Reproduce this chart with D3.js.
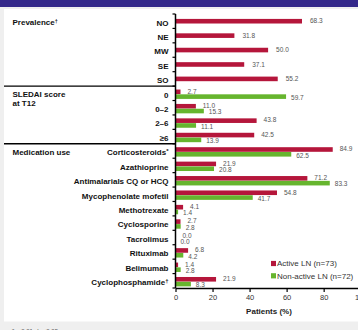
<!DOCTYPE html>
<html><head><meta charset="utf-8">
<script src="https://cdn.jsdelivr.net/npm/d3@7"></script>
<style>
body{margin:0;background:#efefef;}
svg{display:block;font-family:"Liberation Sans",Arial,sans-serif;}
</style></head>
<body><svg id="c" width="358" height="330"></svg>
<script>
const prevalenceCats = ["NO","NE","MW","SE","SO"];
const prevalenceActive = [68.3,31.8,50.0,37.1,55.2];
const sledaiCats = ["0","0\u20132","2\u20136","\u22656"];
const sledaiActive = [2.7,11.0,43.8,42.5];
const sledaiNonActive = [59.7,15.3,11.1,13.9];
const medCats = ["Corticosteroids*","Azathioprine","Antimalarials CQ or HCQ","Mycophenolate mofetil","Methotrexate","Cyclosporine","Tacrolimus","Rituximab","Belimumab","Cyclophosphamide\u2020"];
const medActive = [84.9,21.9,71.2,54.8,4.1,2.7,0.0,6.8,1.4,21.9];
const medNonActive = [62.5,20.8,83.3,41.7,1.4,2.8,0.0,4.2,2.8,8.3];
const seriesNames = ["Active LN (n=73)","Non-active LN (n=72)"];
const seriesColors = ["#b5163b","#66b52e"];
const xTicks = [0,20,40,60,80,100];
const sections = [
  {lines:["Prevalence\u2020"], first:"NO"},
  {lines:["SLEDAI score","at T12"], first:"0"},
  {lines:["Medication use"], first:"Corticosteroids*"}
];
const xTitle = "Patients (%)";
const footnote = "*p<0.01; \u2020p<0.05";

const allCats = [...prevalenceCats, ...sledaiCats, ...medCats];
const rows = [];
prevalenceCats.forEach((c,i)=>rows.push({cat:c, a:prevalenceActive[i], n:null}));
sledaiCats.forEach((c,i)=>rows.push({cat:c, a:sledaiActive[i], n:sledaiNonActive[i]}));
medCats.forEach((c,i)=>rows.push({cat:c, a:medActive[i], n:medNonActive[i]}));

const svg = d3.select("#c");
// frame
svg.append("rect").attr("x",0).attr("y",0).attr("width",358).attr("height",7).attr("fill","#34288a");
svg.append("rect").attr("x",4).attr("y",9).attr("width",354).attr("height",312.5).attr("fill","#fff");

const x = d3.scaleLinear().domain([0,100]).range([175.5,360.7]);
const y = d3.scaleBand().domain(allCats).range([14,288]);
const bw = y.bandwidth();
const bh = 4.6;
const fmt = d3.format(".1f");

// bars
const g = svg.append("g");
rows.forEach(r=>{
  const cy = y(r.cat)+bw/2;
  if(r.n===null){
    g.append("rect").attr("x",x(0)).attr("y",cy-bh/2).attr("width",x(r.a)-x(0)).attr("height",bh).attr("fill",seriesColors[0]);
    g.append("text").attr("x",x(r.a)+8).attr("y",cy).attr("dy","0.35em").attr("font-size",6.5).attr("fill","#555").text(fmt(r.a));
  } else {
    const c0 = cy+0.8;
    g.append("rect").attr("x",x(0)).attr("y",c0-bh).attr("width",x(r.a)-x(0)).attr("height",bh).attr("fill",seriesColors[0]);
    g.append("rect").attr("x",x(0)).attr("y",c0+0.2).attr("width",x(r.n)-x(0)).attr("height",bh).attr("fill",seriesColors[1]);
    g.append("text").attr("x",x(r.a)+7).attr("y",c0-bh/2-0.5).attr("dy","0.35em").attr("font-size",6.5).attr("fill","#555").text(fmt(r.a));
    g.append("text").attr("x",x(r.n)+5).attr("y",c0+bh/2+1.2).attr("dy","0.35em").attr("font-size",6.5).attr("fill","#555").text(fmt(r.n));
  }
});

// category labels
allCats.forEach(c=>{
  const t = svg.append("text").attr("x",168.5).attr("y",y(c)+bw/2+1.5).attr("dy","0.35em")
    .attr("text-anchor","end").attr("font-size",8).attr("font-weight","bold").attr("fill","#111");
  const m = c.match(/^(.*?)([*\u2020])$/);
  if(m){
    t.append("tspan").text(m[1]);
    t.append("tspan").attr("font-size",6).attr("dy","-2.5").text(m[2]);
  } else t.text(c);
});

// section labels
sections.forEach(s=>{
  s.lines.forEach((l,i)=>{
    const t = svg.append("text").attr("x",12.5).attr("y",y(s.first)+bw/2+4+i*8.5)
      .attr("font-size",8).attr("font-weight","bold").attr("fill","#111");
    const m = l.match(/^(.*?)([\u2020])$/);
    if(m){ t.append("tspan").text(m[1]); t.append("tspan").attr("font-size",5.5).attr("dy","-2.5").text(m[2]); }
    else t.text(l);
  });
});

// separators between sections
[sledaiCats[0], medCats[0]].forEach(c=>{
  svg.append("line").attr("x1",4).attr("x2",x(0)).attr("y1",y(c)).attr("y2",y(c)).attr("stroke","#000").attr("stroke-width",1.4);
});

// left axis
svg.append("line").attr("x1",x(0)).attr("x2",x(0)).attr("y1",y.range()[0]).attr("y2",y.range()[1]).attr("stroke","#000").attr("stroke-width",1.5);
[...allCats.map(c=>y(c)), y.range()[1]].forEach(v=>{
  svg.append("line").attr("x1",x(0)-3).attr("x2",x(0)).attr("y1",v).attr("y2",v).attr("stroke","#000").attr("stroke-width",1.2);
});

// bottom axis
const xa = svg.append("g").attr("transform",`translate(0,${y.range()[1]})`)
  .call(d3.axisBottom(x).tickValues(xTicks).tickSize(4).tickSizeOuter(0).tickPadding(3));
xa.select(".domain").attr("stroke","#000").attr("stroke-width",1.5);
xa.selectAll(".tick line").attr("stroke","#000").attr("stroke-width",1.2);
xa.selectAll(".tick text").attr("font-size",7.5).attr("fill","#333").attr("font-family","Liberation Sans, Arial, sans-serif");

svg.append("text").attr("x",269).attr("y",314).attr("text-anchor","middle").attr("font-size",8).attr("font-weight","bold").attr("fill","#222").text(xTitle);

// legend
seriesNames.forEach((s,i)=>{
  const ly = 263.5 + i*12.3;
  svg.append("rect").attr("x",271).attr("y",ly-2.6).attr("width",5).attr("height",5.2).attr("fill",seriesColors[i]);
  svg.append("text").attr("x",277).attr("y",ly).attr("dy","0.35em").attr("font-size",8).attr("fill","#333").text(s);
});

// footnote
svg.append("text").attr("x",12).attr("y",333).attr("font-size",6).attr("fill","#555").text(footnote);
</script>
</body></html>
